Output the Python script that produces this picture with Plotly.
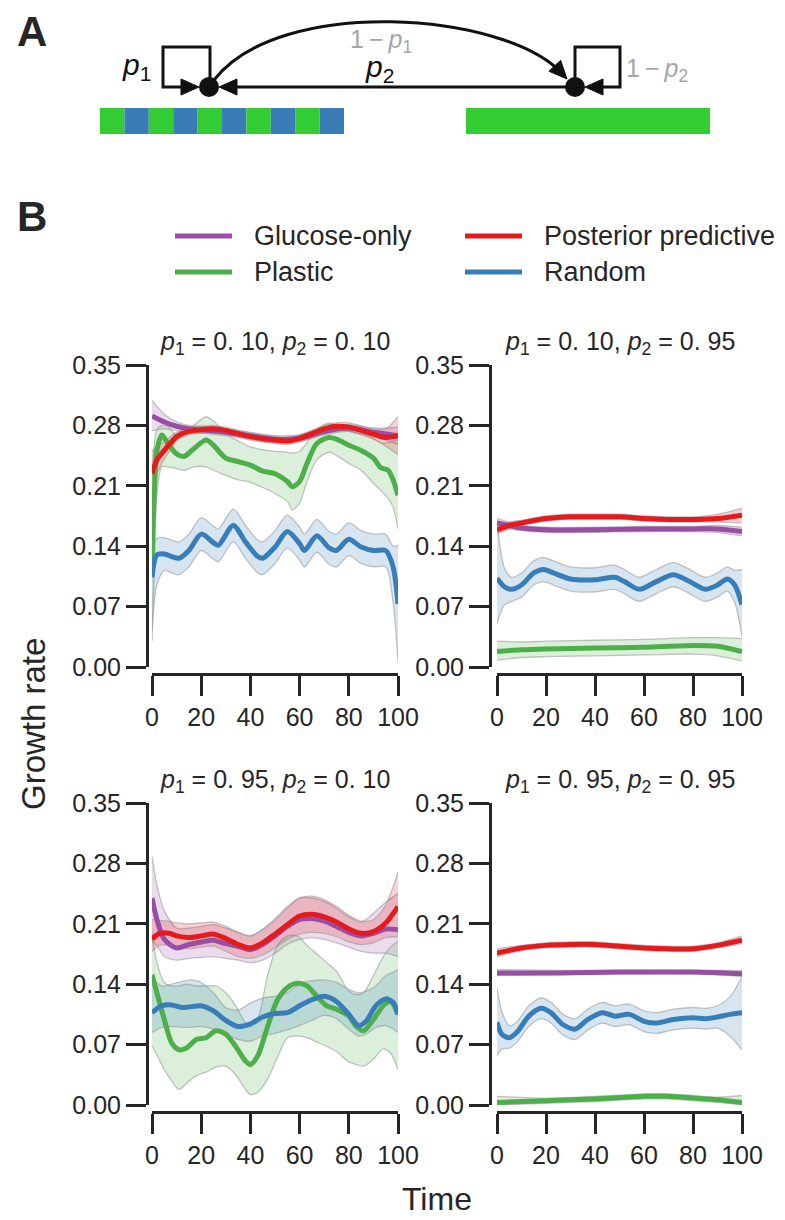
import plotly.graph_objects as go

W, H = 785, 1220
FONT = "Liberation Sans, Arial, Helvetica, sans-serif"
INK = "#262626"

# ---------------- data ----------------
SERIES = ["Glucose-only", "Plastic", "Posterior predictive", "Random"]
COLORS = ["#984ea3", "#4daf4a", "#e41a1c", "#377eb8"]
FILLS = ["rgba(152,78,163,0.20)", "rgba(77,175,74,0.20)", "rgba(228,26,28,0.20)", "rgba(55,126,184,0.20)"]

X_TICKS = [0, 20, 40, 60, 80, 100]
Y_TICKS = [0.00, 0.07, 0.14, 0.21, 0.28, 0.35]
TITLES = [("0. 10", "0. 10"), ("0. 10", "0. 95"), ("0. 95", "0. 10"), ("0. 95", "0. 95")]

# panel 1: p1=0.10, p2=0.10
T_TL_GLU = [0, 5, 10, 15, 20, 30, 40, 50, 60, 70, 80, 90, 100]
TL_GLU = [0.291, 0.284, 0.279, 0.276, 0.275, 0.272, 0.268, 0.264, 0.265, 0.273, 0.277, 0.272, 0.268]
TL_GLU_LO = [0.274, 0.276, 0.274, 0.272, 0.271, 0.268, 0.264, 0.260, 0.261, 0.269, 0.273, 0.267, 0.258]
TL_GLU_HI = [0.309, 0.293, 0.284, 0.280, 0.279, 0.276, 0.272, 0.268, 0.269, 0.277, 0.281, 0.277, 0.278]

T_TL_PLA = [0, 1, 2, 4, 6, 10, 13, 17, 22, 25, 30, 35, 40, 45, 50, 55, 57, 60, 63, 67, 72, 75, 80, 85, 90, 93, 96, 98, 100]
TL_PLA = [0.124, 0.205, 0.251, 0.269, 0.261, 0.247, 0.244, 0.253, 0.263, 0.257, 0.242, 0.238, 0.234, 0.227, 0.224, 0.215, 0.209, 0.215, 0.236, 0.259, 0.266, 0.264, 0.257, 0.251, 0.242, 0.231, 0.228, 0.217, 0.199]
TL_PLA_LO = [0.030, 0.120, 0.200, 0.232, 0.232, 0.230, 0.228, 0.232, 0.232, 0.228, 0.222, 0.217, 0.214, 0.208, 0.201, 0.192, 0.182, 0.190, 0.215, 0.240, 0.249, 0.245, 0.236, 0.228, 0.213, 0.205, 0.195, 0.185, 0.160]
TL_PLA_HI = [0.220, 0.260, 0.275, 0.280, 0.280, 0.268, 0.270, 0.280, 0.290, 0.285, 0.270, 0.262, 0.255, 0.252, 0.250, 0.249, 0.248, 0.250, 0.260, 0.275, 0.283, 0.280, 0.274, 0.270, 0.265, 0.260, 0.260, 0.262, 0.265]

T_TL_POS = [0, 2, 5, 8, 10, 15, 20, 25, 30, 40, 50, 55, 60, 70, 75, 80, 90, 95, 100]
TL_POS = [0.224, 0.240, 0.251, 0.261, 0.267, 0.273, 0.275, 0.276, 0.274, 0.267, 0.263, 0.262, 0.265, 0.276, 0.279, 0.278, 0.270, 0.266, 0.268]
TL_POS_LO = [0.200, 0.224, 0.241, 0.254, 0.262, 0.269, 0.271, 0.272, 0.270, 0.263, 0.259, 0.258, 0.261, 0.272, 0.275, 0.273, 0.264, 0.256, 0.246]
TL_POS_HI = [0.250, 0.256, 0.261, 0.268, 0.272, 0.277, 0.279, 0.280, 0.278, 0.271, 0.267, 0.266, 0.269, 0.280, 0.283, 0.283, 0.276, 0.276, 0.290]

T_TL_RAN = [0, 2, 5, 8, 11, 15, 20, 25, 27, 33, 38, 43, 45, 50, 55, 60, 62, 67, 72, 75, 80, 85, 90, 95, 98, 100]
TL_RAN = [0.104, 0.130, 0.131, 0.128, 0.126, 0.135, 0.154, 0.144, 0.141, 0.164, 0.145, 0.128, 0.126, 0.139, 0.157, 0.143, 0.135, 0.152, 0.138, 0.135, 0.148, 0.139, 0.135, 0.135, 0.116, 0.073]
TL_RAN_LO = [0.040, 0.095, 0.112, 0.109, 0.107, 0.116, 0.135, 0.125, 0.122, 0.145, 0.126, 0.109, 0.107, 0.120, 0.138, 0.124, 0.116, 0.133, 0.119, 0.116, 0.129, 0.120, 0.116, 0.116, 0.075, 0.005]
TL_RAN_HI = [0.138, 0.149, 0.150, 0.147, 0.145, 0.154, 0.173, 0.163, 0.160, 0.183, 0.164, 0.147, 0.145, 0.158, 0.176, 0.162, 0.154, 0.171, 0.157, 0.154, 0.167, 0.158, 0.154, 0.154, 0.140, 0.141]

# panel 2: p1=0.10, p2=0.95
T_TR_GLU = [0, 5, 10, 20, 40, 60, 80, 90, 100]
TR_GLU = [0.167, 0.164, 0.161, 0.159, 0.159, 0.160, 0.160, 0.160, 0.157]
TR_GLU_LO = [0.160, 0.160, 0.158, 0.156, 0.156, 0.157, 0.157, 0.156, 0.152]
TR_GLU_HI = [0.172, 0.168, 0.164, 0.162, 0.162, 0.163, 0.163, 0.164, 0.162]

T_TR_PLA = [0, 10, 20, 40, 60, 80, 90, 100]
TR_PLA = [0.018, 0.020, 0.021, 0.022, 0.023, 0.025, 0.024, 0.018]
TR_PLA_LO = [0.008, 0.011, 0.012, 0.013, 0.014, 0.015, 0.013, 0.007]
TR_PLA_HI = [0.030, 0.029, 0.030, 0.031, 0.032, 0.034, 0.034, 0.033]

T_TR_POS = [0, 5, 10, 20, 30, 40, 50, 60, 70, 80, 90, 100]
TR_POS = [0.159, 0.164, 0.167, 0.172, 0.174, 0.174, 0.174, 0.172, 0.171, 0.171, 0.172, 0.176]
TR_POS_LO = [0.154, 0.160, 0.164, 0.169, 0.171, 0.171, 0.171, 0.169, 0.168, 0.168, 0.168, 0.167]
TR_POS_HI = [0.164, 0.168, 0.170, 0.175, 0.177, 0.177, 0.177, 0.175, 0.174, 0.174, 0.177, 0.184]

T_TR_RAN = [0, 3, 6, 10, 15, 19, 23, 30, 40, 48, 52, 58, 65, 72, 78, 85, 90, 94, 97, 100]
TR_RAN = [0.103, 0.093, 0.090, 0.095, 0.109, 0.113, 0.109, 0.102, 0.101, 0.104, 0.099, 0.090, 0.099, 0.107, 0.100, 0.090, 0.095, 0.102, 0.095, 0.072]
TR_RAN_LO = [0.050, 0.072, 0.076, 0.081, 0.095, 0.099, 0.095, 0.088, 0.087, 0.090, 0.085, 0.076, 0.085, 0.093, 0.086, 0.076, 0.081, 0.088, 0.075, 0.035]
TR_RAN_HI = [0.170, 0.115, 0.104, 0.109, 0.123, 0.127, 0.123, 0.116, 0.115, 0.118, 0.113, 0.104, 0.113, 0.121, 0.114, 0.104, 0.109, 0.116, 0.112, 0.113]

# panel 3: p1=0.95, p2=0.10
T_BL_GLU = [0, 2, 5, 10, 15, 20, 25, 30, 35, 40, 45, 50, 55, 60, 65, 70, 75, 80, 85, 90, 95, 100]
BL_GLU = [0.240, 0.215, 0.192, 0.182, 0.186, 0.189, 0.191, 0.187, 0.184, 0.180, 0.186, 0.196, 0.207, 0.215, 0.216, 0.213, 0.207, 0.200, 0.196, 0.199, 0.204, 0.203]
BL_GLU_LO = [0.190, 0.185, 0.172, 0.168, 0.170, 0.171, 0.172, 0.170, 0.168, 0.165, 0.168, 0.176, 0.186, 0.192, 0.194, 0.192, 0.188, 0.183, 0.178, 0.176, 0.176, 0.172]
BL_GLU_HI = [0.288, 0.255, 0.225, 0.205, 0.205, 0.207, 0.209, 0.205, 0.200, 0.196, 0.204, 0.216, 0.230, 0.240, 0.240, 0.236, 0.228, 0.218, 0.212, 0.222, 0.235, 0.245]

T_BL_PLA = [0, 2, 5, 8, 11, 14, 18, 22, 26, 30, 34, 38, 40, 43, 47, 51, 55, 59, 63, 67, 71, 75, 80, 83, 86, 90, 94, 97, 100]
BL_PLA = [0.151, 0.130, 0.099, 0.072, 0.064, 0.066, 0.076, 0.078, 0.086, 0.082, 0.068, 0.051, 0.047, 0.057, 0.091, 0.122, 0.136, 0.141, 0.138, 0.126, 0.115, 0.111, 0.103, 0.091, 0.086, 0.099, 0.115, 0.120, 0.105]
BL_PLA_LO = [0.068, 0.058, 0.041, 0.028, 0.018, 0.025, 0.034, 0.038, 0.044, 0.045, 0.035, 0.018, 0.012, 0.015, 0.030, 0.055, 0.078, 0.080, 0.078, 0.073, 0.068, 0.062, 0.050, 0.047, 0.045, 0.053, 0.065, 0.060, 0.041]
BL_PLA_HI = [0.200, 0.165, 0.142, 0.138, 0.138, 0.140, 0.138, 0.138, 0.138, 0.130, 0.115, 0.095, 0.091, 0.100, 0.150, 0.185, 0.196, 0.196, 0.185, 0.175, 0.165, 0.155, 0.132, 0.128, 0.130, 0.150, 0.172, 0.183, 0.190]

T_BL_POS = [0, 3, 7, 10, 15, 20, 25, 30, 35, 40, 45, 50, 55, 60, 65, 70, 75, 80, 85, 90, 95, 100]
BL_POS = [0.192, 0.199, 0.199, 0.196, 0.194, 0.196, 0.198, 0.193, 0.186, 0.182, 0.188, 0.198, 0.209, 0.219, 0.221, 0.218, 0.212, 0.204, 0.199, 0.201, 0.211, 0.230]
BL_POS_LO = [0.178, 0.185, 0.185, 0.183, 0.181, 0.183, 0.184, 0.178, 0.172, 0.170, 0.174, 0.182, 0.192, 0.198, 0.200, 0.199, 0.195, 0.189, 0.186, 0.188, 0.194, 0.195]
BL_POS_HI = [0.215, 0.214, 0.213, 0.211, 0.210, 0.211, 0.212, 0.207, 0.200, 0.196, 0.203, 0.214, 0.228, 0.240, 0.242, 0.238, 0.230, 0.220, 0.213, 0.215, 0.232, 0.270]

T_BL_RAN = [0, 4, 8, 12, 16, 20, 25, 30, 35, 40, 45, 50, 55, 60, 65, 70, 75, 80, 84, 87, 91, 95, 98, 100]
BL_RAN = [0.107, 0.115, 0.116, 0.113, 0.114, 0.115, 0.109, 0.098, 0.091, 0.094, 0.102, 0.106, 0.107, 0.115, 0.122, 0.126, 0.120, 0.105, 0.092, 0.097, 0.115, 0.123, 0.119, 0.105]
BL_RAN_LO = [0.084, 0.090, 0.091, 0.090, 0.090, 0.091, 0.088, 0.082, 0.076, 0.074, 0.080, 0.083, 0.087, 0.092, 0.098, 0.104, 0.100, 0.088, 0.080, 0.082, 0.090, 0.092, 0.088, 0.084]
BL_RAN_HI = [0.147, 0.138, 0.140, 0.143, 0.145, 0.142, 0.130, 0.113, 0.110, 0.118, 0.124, 0.126, 0.130, 0.140, 0.144, 0.145, 0.142, 0.134, 0.130, 0.132, 0.138, 0.150, 0.154, 0.157]

# panel 4: p1=0.95, p2=0.95
T_BR_GLU = [0, 25, 50, 80, 100]
BR_GLU = [0.153, 0.153, 0.154, 0.154, 0.152]
BR_GLU_LO = [0.150, 0.151, 0.152, 0.152, 0.149]
BR_GLU_HI = [0.157, 0.156, 0.156, 0.156, 0.156]

T_BR_PLA = [0, 20, 40, 60, 70, 80, 90, 100]
BR_PLA = [0.003, 0.005, 0.007, 0.010, 0.010, 0.008, 0.006, 0.003]
BR_PLA_LO = [0.000, 0.002, 0.004, 0.007, 0.007, 0.005, 0.003, 0.000]
BR_PLA_HI = [0.010, 0.008, 0.010, 0.013, 0.013, 0.011, 0.009, 0.011]

T_BR_POS = [0, 10, 20, 30, 40, 50, 60, 70, 80, 90, 100]
BR_POS = [0.176, 0.182, 0.185, 0.186, 0.186, 0.184, 0.182, 0.181, 0.181, 0.185, 0.191]
BR_POS_LO = [0.172, 0.179, 0.182, 0.183, 0.183, 0.181, 0.179, 0.178, 0.178, 0.182, 0.187]
BR_POS_HI = [0.181, 0.185, 0.188, 0.189, 0.189, 0.187, 0.185, 0.184, 0.184, 0.188, 0.196]

T_BR_RAN = [0, 2, 5, 8, 13, 18, 22, 27, 32, 37, 43, 48, 54, 60, 65, 72, 80, 85, 90, 95, 100]
BR_RAN = [0.096, 0.082, 0.078, 0.084, 0.103, 0.112, 0.107, 0.093, 0.088, 0.099, 0.107, 0.103, 0.105, 0.097, 0.095, 0.099, 0.101, 0.100, 0.102, 0.105, 0.107]
BR_RAN_LO = [0.057, 0.065, 0.066, 0.072, 0.091, 0.100, 0.095, 0.081, 0.076, 0.087, 0.095, 0.091, 0.093, 0.085, 0.083, 0.087, 0.089, 0.088, 0.089, 0.080, 0.064]
BR_RAN_HI = [0.136, 0.108, 0.092, 0.096, 0.115, 0.124, 0.119, 0.105, 0.100, 0.111, 0.119, 0.115, 0.117, 0.109, 0.107, 0.111, 0.113, 0.112, 0.115, 0.125, 0.149]

# panel A strips: 0 = glucose (green), 1 = alternating (blue)
STRIP_LEFT = [0, 1, 0, 1, 0, 1, 0, 1, 0, 1]
STRIP_RIGHT = [0]
STRIP_COLORS = ["#33cc33", "#3a7bb8"]

PANELS = [
    [(T_TL_GLU, TL_GLU, TL_GLU_LO, TL_GLU_HI), (T_TL_PLA, TL_PLA, TL_PLA_LO, TL_PLA_HI),
     (T_TL_POS, TL_POS, TL_POS_LO, TL_POS_HI), (T_TL_RAN, TL_RAN, TL_RAN_LO, TL_RAN_HI)],
    [(T_TR_GLU, TR_GLU, TR_GLU_LO, TR_GLU_HI), (T_TR_PLA, TR_PLA, TR_PLA_LO, TR_PLA_HI),
     (T_TR_POS, TR_POS, TR_POS_LO, TR_POS_HI), (T_TR_RAN, TR_RAN, TR_RAN_LO, TR_RAN_HI)],
    [(T_BL_GLU, BL_GLU, BL_GLU_LO, BL_GLU_HI), (T_BL_PLA, BL_PLA, BL_PLA_LO, BL_PLA_HI),
     (T_BL_POS, BL_POS, BL_POS_LO, BL_POS_HI), (T_BL_RAN, BL_RAN, BL_RAN_LO, BL_RAN_HI)],
    [(T_BR_GLU, BR_GLU, BR_GLU_LO, BR_GLU_HI), (T_BR_PLA, BR_PLA, BR_PLA_LO, BR_PLA_HI),
     (T_BR_POS, BR_POS, BR_POS_LO, BR_POS_HI), (T_BR_RAN, BR_RAN, BR_RAN_LO, BR_RAN_HI)],
]


# ---------------- layout helpers (pixel -> paper) ----------------
def fx(px):
    return px / W


def fy(py):
    return 1 - py / H


COL_X = [(152, 398), (497, 742)]   # pixel x of t=0 and t=100
COL_SPINE = [147, 490]
ROW_Y = [(667, 365), (1105, 803)]  # pixel y of 0.00 and 0.35
ROW_XSPINE = [674, 1112]
TITLE_Y = [343, 781]

fig = go.Figure()
layout = dict(
    template="none",
    width=W, height=H, margin=dict(l=0, r=0, t=0, b=0, pad=0, autoexpand=False),
    paper_bgcolor="white", plot_bgcolor="white", showlegend=False,
    font=dict(family=FONT, color=INK),
)
annotations = []
shapes = []

for i, panel in enumerate(PANELS):
    r, c = divmod(i, 2)
    xa = "x" if i == 0 else f"x{i+1}"
    ya = "y" if i == 0 else f"y{i+1}"
    xk = "xaxis" if i == 0 else f"xaxis{i+1}"
    yk = "yaxis" if i == 0 else f"yaxis{i+1}"
    x0, x1 = COL_X[c]
    y0, y1 = ROW_Y[r]
    layout[xk] = dict(
        domain=[fx(x0), fx(x1)], range=[0, 100], anchor="free", position=fy(ROW_XSPINE[r]),
        tickvals=X_TICKS, ticks="outside", ticklen=20, tickwidth=3, tickcolor=INK,
        showline=True, linewidth=3, linecolor=INK, showgrid=False, zeroline=False,
        tickfont=dict(size=25, color=INK, family=FONT), fixedrange=True, automargin=False,
    )
    layout[yk] = dict(
        domain=[fy(y0), fy(y1)], range=[0, 0.35], anchor="free", position=fx(COL_SPINE[c]),
        tickvals=Y_TICKS, tickformat=".2f", ticks="outside", ticklen=20, tickwidth=3, tickcolor=INK,
        showline=True, linewidth=3, linecolor=INK, showgrid=False, zeroline=False,
        tickfont=dict(size=25, color=INK, family=FONT), fixedrange=True, automargin=False,
    )
    # bands
    for s, (t, m, lo, hi) in enumerate(panel):
        edge = dict(color="rgba(150,150,150,0.55)", width=1.3, shape="spline", smoothing=0.8)
        fig.add_trace(go.Scatter(x=t, y=lo, xaxis=xa, yaxis=ya, mode="lines", line=edge,
                                 hoverinfo="skip", showlegend=False))
        fig.add_trace(go.Scatter(x=t, y=hi, xaxis=xa, yaxis=ya, mode="lines", line=edge,
                                 fill="tonexty", fillcolor=FILLS[s], hoverinfo="skip", showlegend=False))
    for s, (t, m, lo, hi) in enumerate(panel):
        fig.add_trace(go.Scatter(x=t, y=m, xaxis=xa, yaxis=ya, mode="lines", name=SERIES[s],
                                 line=dict(color=COLORS[s], width=5, shape="spline", smoothing=0.8),
                                 showlegend=False))
    a, b = TITLES[i]
    annotations.append(dict(
        xref="paper", yref="paper", x=fx((x0 + x1) / 2), y=fy(TITLE_Y[r]), xanchor="center", yanchor="middle",
        text=f"<i>p</i><sub>1</sub> = {a}, <i>p</i><sub>2</sub> = {b}", showarrow=False,
        font=dict(size=25, color=INK, family=FONT),
    ))

# axis titles
annotations.append(dict(xref="paper", yref="paper", x=fx(34), y=fy(724), text="Growth rate", textangle=-90,
                        showarrow=False, xanchor="center", yanchor="middle", font=dict(size=33, color=INK, family=FONT)))
annotations.append(dict(xref="paper", yref="paper", x=fx(437), y=fy(1199), text="Time",
                        showarrow=False, xanchor="center", yanchor="middle", font=dict(size=32, color=INK, family=FONT)))

# panel letters
for letter, (px, py) in [("A", (32, 31)), ("B", (32, 216))]:
    annotations.append(dict(xref="paper", yref="paper", x=fx(px), y=fy(py), text=f"<b>{letter}</b>",
                            showarrow=False, xanchor="center", yanchor="middle",
                            font=dict(size=42, color=INK, family=FONT)))

# legend (two columns, column-major like the reference)
LEG_POS = [(175, 236), (175, 272), (465, 236), (465, 272)]
for s, (lx, ly) in enumerate(LEG_POS):
    shapes.append(dict(type="line", xref="paper", yref="paper", x0=fx(lx), x1=fx(lx + 57), y0=fy(ly), y1=fy(ly),
                       line=dict(color=COLORS[s], width=5)))
    annotations.append(dict(xref="paper", yref="paper", x=fx(lx + 77), y=fy(ly), text=SERIES[s], showarrow=False,
                            xanchor="left", yanchor="middle", font=dict(size=27, color=INK, family=FONT)))

# ---------------- panel A diagram ----------------
BLACK = "#111111"
GRAY = "#a6a6a6"


def seg_strip(states, xs, xe, ys, ye):
    n = len(states)
    w = (xe - xs) / n
    for k, st in enumerate(states):
        shapes.append(dict(type="rect", xref="paper", yref="paper", x0=fx(xs + k * w), x1=fx(xs + (k + 1) * w),
                           y0=fy(ye), y1=fy(ys), line=dict(width=0), fillcolor=STRIP_COLORS[st], layer="above"))


seg_strip(STRIP_LEFT, 100, 344, 108, 134)
seg_strip(STRIP_RIGHT, 466, 710, 108, 134)


def path(points, closed=False):
    s = "M " + " L ".join(f"{fx(px):.5f},{fy(py):.5f}" for px, py in points)
    return s + (" Z" if closed else "")


def arrowhead(tip, ux, uy, length=18, half=8):
    tx, ty = tip
    bx, by = tx - ux * length, ty - uy * length
    nx, ny = -uy, ux
    pts = [(tx, ty), (bx + nx * half, by + ny * half), (bx - nx * half, by - ny * half)]
    shapes.append(dict(type="path", xref="paper", yref="paper", path=path(pts, True),
                       fillcolor=BLACK, line=dict(color=BLACK, width=1)))


def polyline(points, width=3):
    shapes.append(dict(type="path", xref="paper", yref="paper", path=path(points),
                       line=dict(color=BLACK, width=width)))


LNODE = (209, 87)
RNODE = (575, 87)
NR = 10

# self loops
polyline([(210, 80), (210, 47), (163, 47), (163, 87), (186, 87)])
arrowhead((LNODE[0] - NR, 87), 1, 0)
polyline([(575, 80), (575, 47), (620, 47), (620, 87), (598, 87)])
arrowhead((RNODE[0] + NR, 87), -1, 0)
# straight arrow right -> left
polyline([(RNODE[0], 87), (LNODE[0] + NR + 12, 87)])
arrowhead((LNODE[0] + NR, 87), -1, 0)
# arc left -> right
P0 = (214, 80)
C1 = (280, -5)
C2 = (505, 12)
TIP = (567, 79)
dx, dy = TIP[0] - C2[0], TIP[1] - C2[1]
dn = (dx * dx + dy * dy) ** 0.5
ux, uy = dx / dn, dy / dn
P3 = (TIP[0] - ux * 8, TIP[1] - uy * 8)
shapes.append(dict(type="path", xref="paper", yref="paper",
                   path=(f"M {fx(P0[0]):.5f},{fy(P0[1]):.5f} C {fx(C1[0]):.5f},{fy(C1[1]):.5f} "
                         f"{fx(C2[0]):.5f},{fy(C2[1]):.5f} {fx(P3[0]):.5f},{fy(P3[1]):.5f}"),
                   line=dict(color=BLACK, width=3)))
arrowhead(TIP, ux, uy)
# nodes
for cx, cy in (LNODE, RNODE):
    shapes.append(dict(type="circle", xref="paper", yref="paper", x0=fx(cx - NR), x1=fx(cx + NR),
                       y0=fy(cy + NR), y1=fy(cy - NR), fillcolor=BLACK, line=dict(color=BLACK, width=0)))

for txt, (px, py), col in [
    ("<i>p</i><sub>1</sub>", (136, 67), BLACK),
    ("<i>p</i><sub>2</sub>", (379, 69), BLACK),
    ("1\u2009\u2212\u2009<i>p</i><sub>1</sub>", (381, 41), GRAY),
    ("1\u2009\u2212\u2009<i>p</i><sub>2</sub>", (657, 70), GRAY),
]:
    annotations.append(dict(xref="paper", yref="paper", x=fx(px), y=fy(py), text=txt, showarrow=False,
                            xanchor="center", yanchor="middle",
                            font=dict(size=30 if col == BLACK else 25, color=col, family=FONT)))

layout["annotations"] = annotations
layout["shapes"] = shapes
fig.update_layout(**layout)
fig.write_html(
    "out.html",
    post_script="document.body.style.margin='0px';document.body.style.padding='0px';"
                "document.documentElement.style.overflow='hidden';",
)
